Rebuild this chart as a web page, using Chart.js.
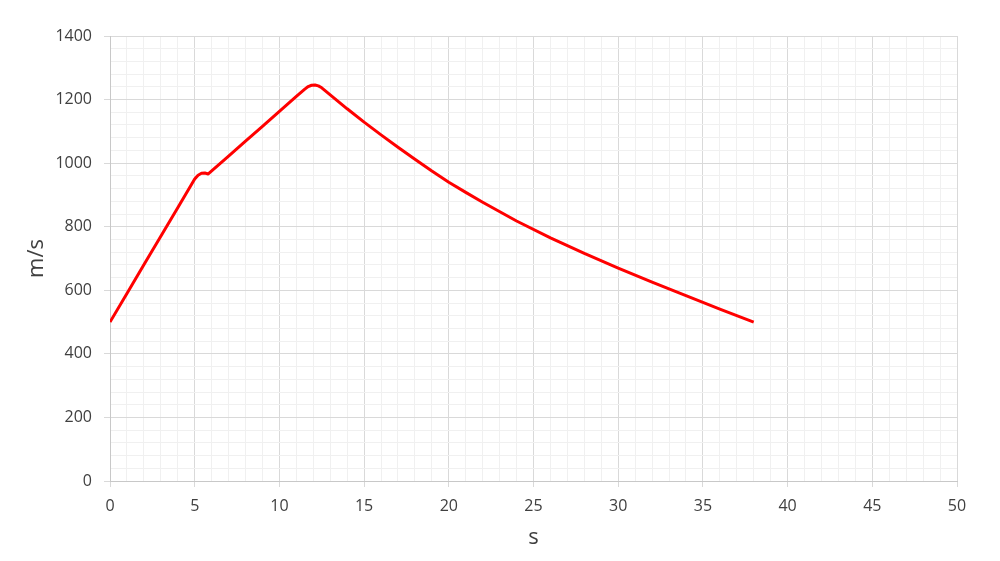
<!DOCTYPE html>
<html>
<head>
<meta charset="utf-8">
<script src="https://cdn.jsdelivr.net/npm/chart.js@4"></script>
<style>
  html, body { margin: 0; padding: 0; background: #fff; }
  #wrap { width: 1000px; height: 561px; }
</style>
</head>
<body>
<div id="wrap"><canvas id="chart"></canvas></div>
<script>
// time (s) and speed (m/s)
const times = [0, 1, 2, 3, 4, 4.8, 5.0, 5.2, 5.4, 5.6, 5.8, 7, 8, 9, 10, 11, 11.5, 11.7, 11.9, 12.1, 12.3, 12.5, 13, 14, 15, 16, 17, 18, 19, 20, 21, 22, 24, 26, 28, 30, 32, 34, 36, 38];
const speeds = [500, 590, 680, 770, 860, 932, 950, 962, 968, 969, 966, 1022, 1069, 1116, 1163, 1210, 1233, 1241, 1245, 1246, 1243, 1237, 1215, 1171, 1129, 1089, 1050, 1012, 975, 940, 908, 877, 818, 765, 716, 670, 626, 583, 541, 500];

const xMax = 50, yMax = 1400;
const xMajor = 5, yMajor = 200;
const xTitle = 's', yTitle = 'm/s';

const points = times.map((t, i) => ({ x: t, y: speeds[i] }));

const FONT = "'Open Sans', sans-serif";
const MAJOR = '#d9d9d9', MINOR = '#f0f0f0';

new Chart(document.getElementById('chart'), {
  type: 'line',
  data: {
    datasets: [{
      data: points,
      borderColor: '#ff0000',
      borderWidth: 3,
      pointRadius: 0,
      tension: 0,
      borderJoinStyle: 'round',
      fill: false
    }]
  },
  options: {
    responsive: true,
    maintainAspectRatio: false,
    animation: false,
    layout: { padding: { left: 0, right: 43, top: 36, bottom: 0 } },
    plugins: { legend: { display: false }, tooltip: { enabled: false } },
    scales: {
      x: {
        type: 'linear',
        min: 0, max: xMax,
        afterFit: s => { s.height = 80; },
        ticks: {
          stepSize: 1, autoSkip: false, maxRotation: 0, padding: 10,
          color: '#404040', font: { family: FONT, size: 16 },
          callback: v => (v % xMajor === 0 ? v : '')
        },
        grid: {
          color: c => (c.tick && c.tick.value % xMajor === 0 ? MAJOR : MINOR),
          tickColor: c => (c.tick && c.tick.value % xMajor === 0 ? MAJOR : 'rgba(0,0,0,0)'),
          tickLength: 6
        },
        border: { color: '#c8c8c8' },
        title: {
          display: true, text: xTitle, color: '#404040',
          font: { family: FONT, size: 22 }, padding: { top: 0, bottom: 10 }
        }
      },
      y: {
        min: 0, max: yMax,
        afterFit: s => { s.width = 110; },
        ticks: {
          stepSize: 40, autoSkip: false, padding: 12,
          color: '#404040', font: { family: FONT, size: 16 },
          callback: v => (v % yMajor === 0 ? v : '')
        },
        grid: {
          color: c => (c.tick && c.tick.value % yMajor === 0 ? MAJOR : MINOR),
          tickColor: c => (c.tick && c.tick.value % yMajor === 0 ? MAJOR : 'rgba(0,0,0,0)'),
          tickLength: 6
        },
        border: { color: '#c8c8c8' },
        title: {
          display: true, text: yTitle, color: '#404040',
          font: { family: FONT, size: 22 }, padding: { top: 24, bottom: 0 }
        }
      }
    }
  }
});
</script>
</body>
</html>
